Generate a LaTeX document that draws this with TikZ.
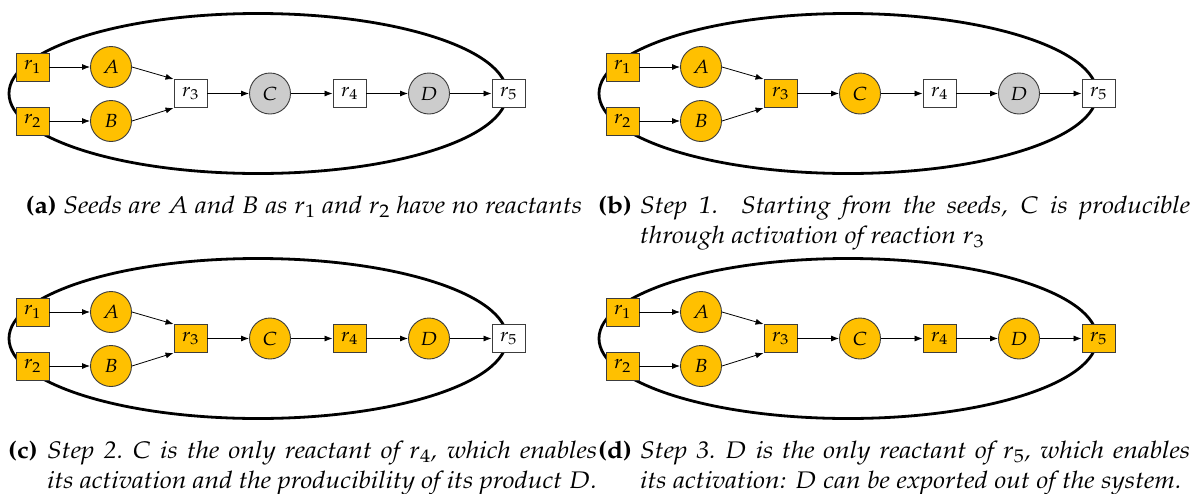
\documentclass[tikz,border=0pt]{standalone}
\usepackage[T1]{fontenc}
\usepackage{mathpazo}
\usepackage{graphicx}
\usetikzlibrary{arrows.meta}
\definecolor{gold}{RGB}{255,192,0}
\definecolor{metgray}{RGB}{204,204,204}
\definecolor{edgegray}{RGB}{60,60,60}
\newcommand\capfont{\fontsize{24}{30}\selectfont}
\newcommand\sx[1]{\scalebox{1.105}[1]{#1}}
\tikzset{
  rbox/.style={draw=edgegray, line width=0.9pt, minimum width=33pt, minimum height=28pt,
    inner sep=0pt, fill=white, font=\fontsize{19}{22}\selectfont},
  met/.style={circle, draw=edgegray, line width=0.9pt, minimum size=41pt, inner sep=0pt,
    fill=metgray, font=\fontsize{19}{22}\selectfont},
  arr/.style={-{Latex[length=8pt,width=6pt]}, line width=0.8pt},
  border/.style={line width=2.8pt},
  capnode/.style={anchor=base west, inner sep=0pt}
}
% #1 prefix, #2 shift, #3..#7 fills of r3, C, r4, D, r5
\newcommand\netpanel[7]{%
\begin{scope}[shift={#2}]
  \draw[border] (258,93.5) ellipse [x radius=249pt, y radius=80pt];
  \node[rbox, fill=gold] (#1r1) at (32.5,67) {\sx{$r_1$}};
  \node[rbox, fill=gold] (#1r2) at (32.5,121) {\sx{$r_2$}};
  \node[met, fill=gold] (#1A) at (111,67) {\sx{$A$}};
  \node[met, fill=gold] (#1B) at (111,121) {\sx{$B$}};
  \node[rbox, fill=#3] (#1r3) at (190.5,93.5) {\sx{$r_3$}};
  \node[met, fill=#4] (#1C) at (270,93.5) {\sx{$C$}};
  \node[rbox, fill=#5] (#1r4) at (349.5,93.5) {\sx{$r_4$}};
  \node[met, fill=#6] (#1D) at (429,93.5) {\sx{$D$}};
  \node[rbox, fill=#7] (#1r5) at (508.5,93.5) {\sx{$r_5$}};
  \draw[arr] (#1r1) -- (#1A);
  \draw[arr] (#1r2) -- (#1B);
  \draw[arr] (#1A.east) -- (#1r3.north west);
  \draw[arr] (#1B.east) -- (#1r3.south west);
  \draw[arr] (#1r3) -- (#1C);
  \draw[arr] (#1C) -- (#1r4);
  \draw[arr] (#1r4) -- (#1D);
  \draw[arr] (#1D) -- (#1r5);
\end{scope}}
\begin{document}
\begin{tikzpicture}[x=1pt, y=-1pt]
\useasboundingbox (0,0) rectangle (1192,493);

\netpanel{a}{(0,0)}{white}{metgray}{white}{metgray}{white}
\netpanel{b}{(590,0)}{gold}{gold}{white}{metgray}{white}
\netpanel{c}{(0,245)}{gold}{gold}{gold}{gold}{white}
\netpanel{d}{(590,245)}{gold}{gold}{gold}{gold}{gold}

\node[anchor=base, inner sep=0pt] (capa) at (304,213)
  {\sx{\capfont\textbf{(a)} \textit{Seeds are $A$ and $B$ as $r_1$ and $r_2$ have no reactants}}};

\node[capnode] (labb) at (598,213) {\sx{\capfont\bfseries (b)}};
\node[capnode] (capb) at (640,213) {\sx{\parbox[t]{497.7pt}{\capfont\itshape
  Step 1.\ \ Starting from the seeds, $C$ is producible\linebreak
  through activation of reaction $r_3$}}};

\node[capnode] (labc) at (8,458) {\sx{\capfont\bfseries (c)}};
\node[capnode] (capc) at (47,458) {\sx{\parbox[t]{497.7pt}{\capfont\itshape
  Step 2.\ $C$ is the only reactant of $r_4$, which enables\linebreak
  its activation and the producibility of its product $D$.}}};

\node[capnode] (labd) at (598,458) {\sx{\capfont\bfseries (d)}};
\node[capnode] (capd) at (640,458) {\sx{\parbox[t]{497.7pt}{\capfont\itshape
  Step 3.\ $D$ is the only reactant of $r_5$, which enables\linebreak
  its activation: $D$ can be exported out of the system.}}};
\end{tikzpicture}
\end{document}
